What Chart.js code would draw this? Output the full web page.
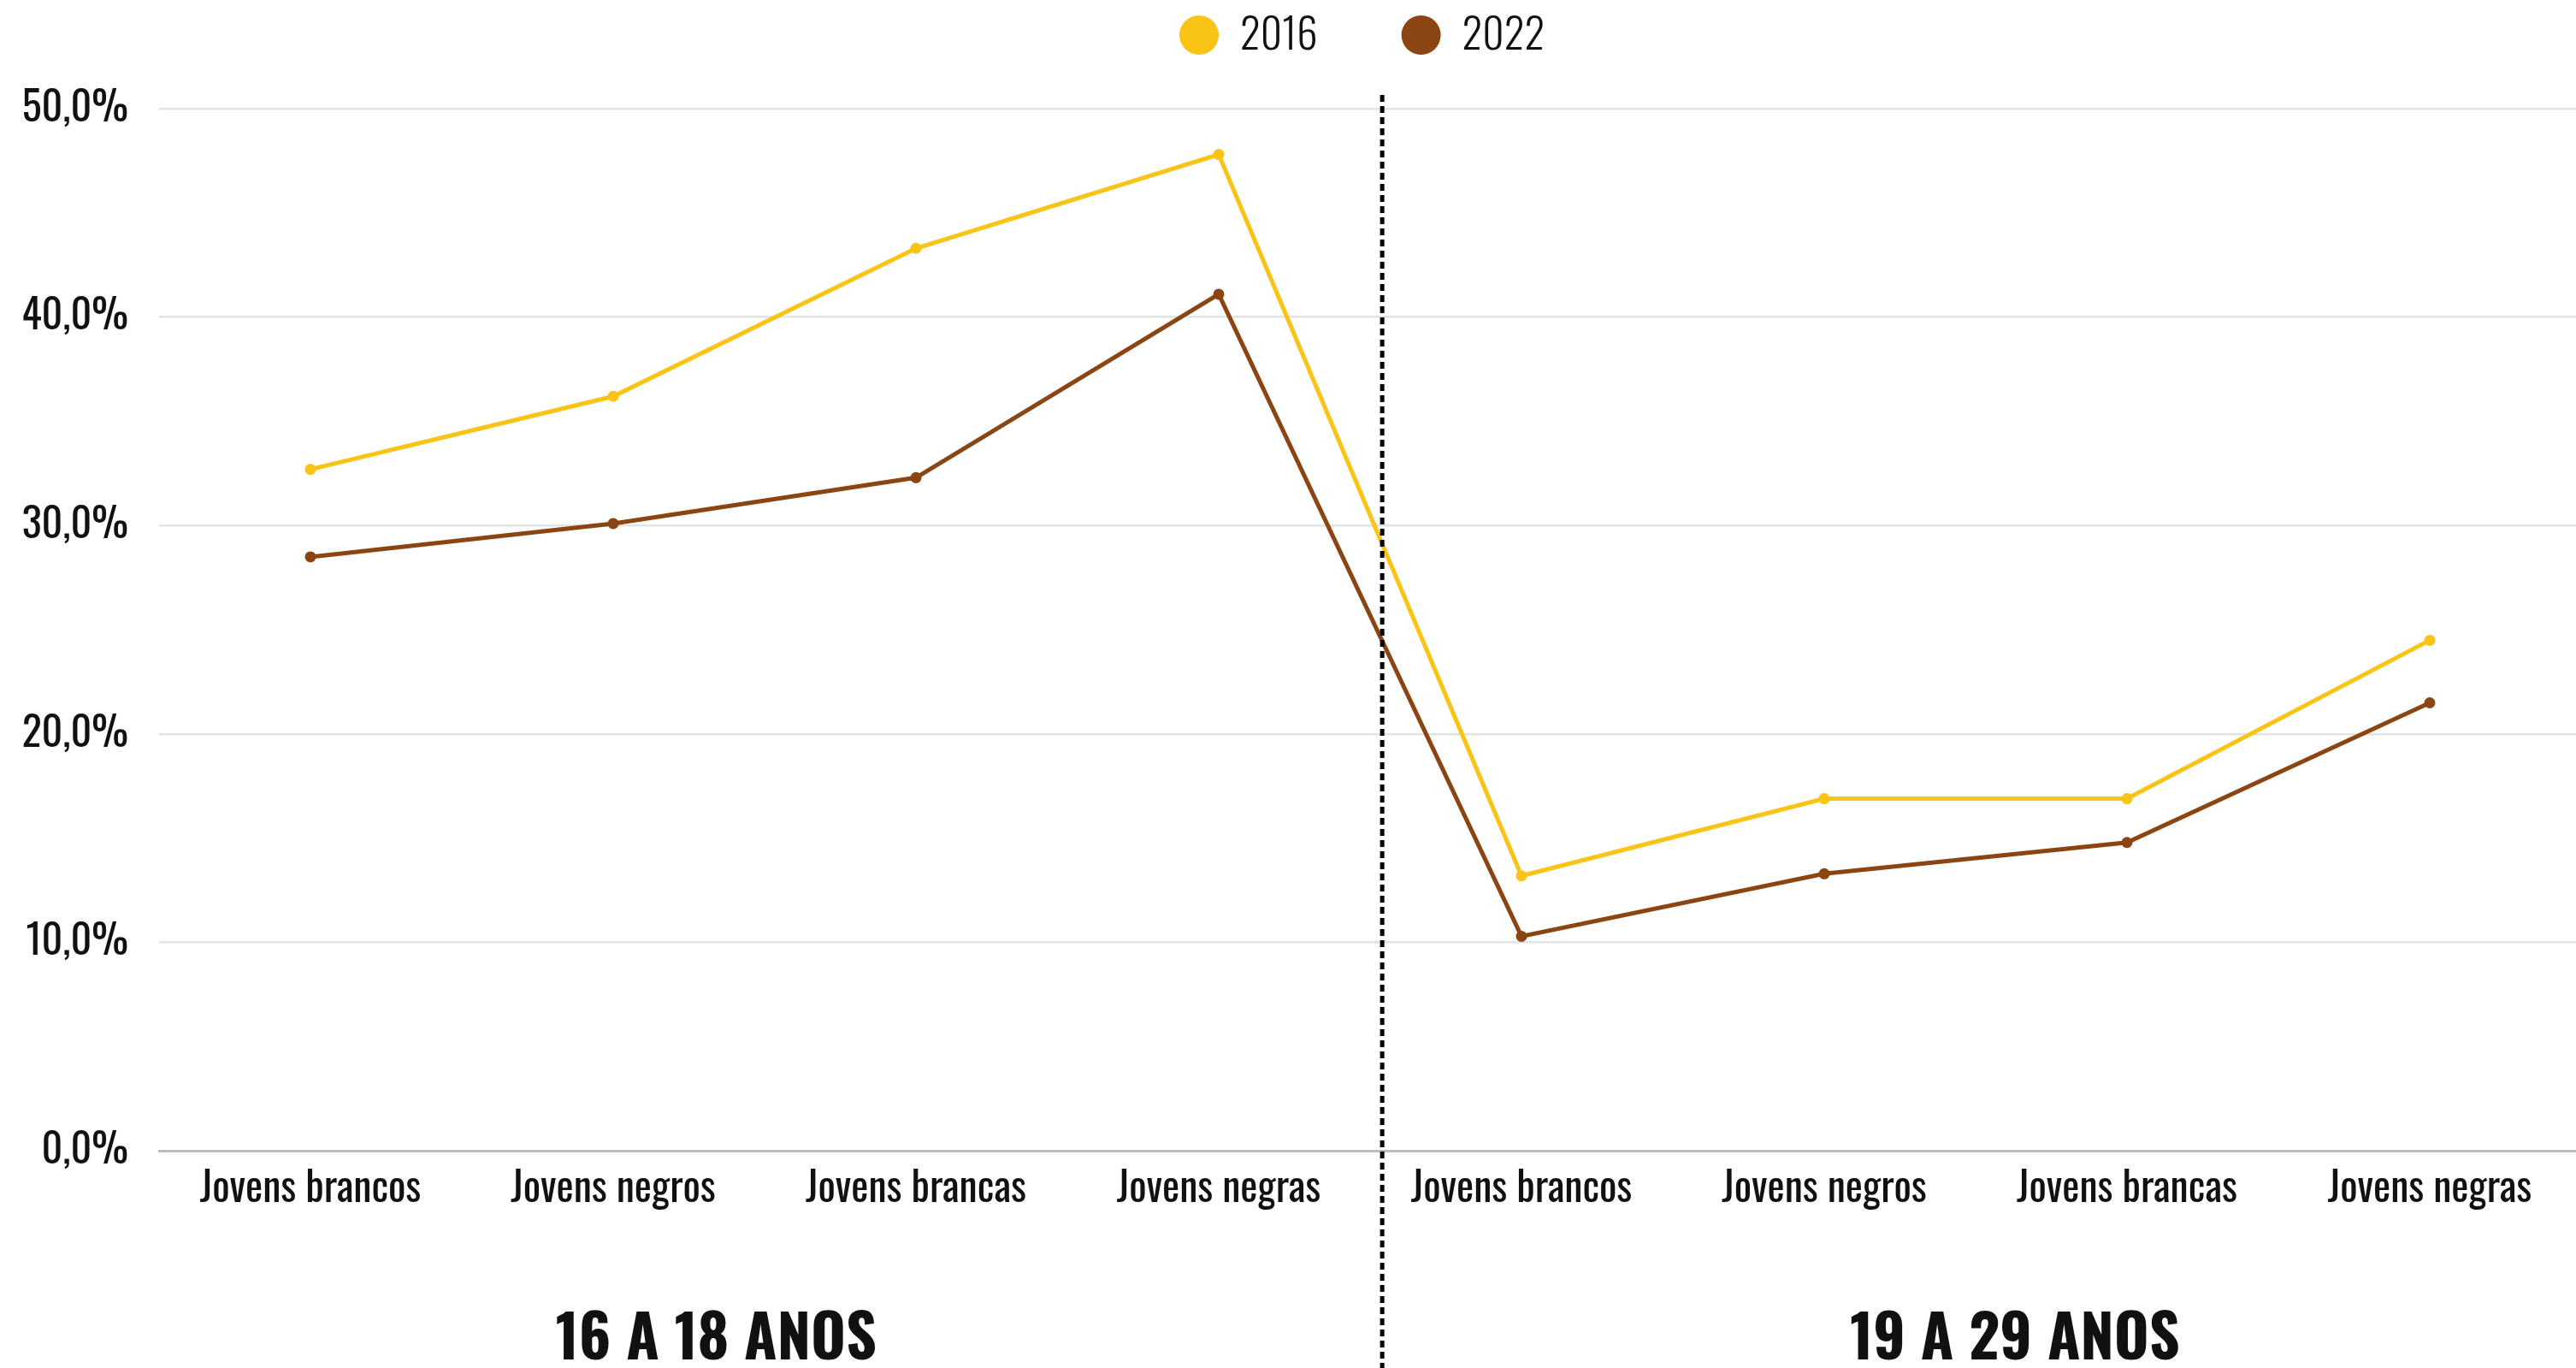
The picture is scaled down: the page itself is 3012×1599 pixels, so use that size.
<!DOCTYPE html>
<html>
<head>
<meta charset="utf-8">
<script src="https://cdn.jsdelivr.net/npm/chart.js@4/dist/chart.umd.min.js"></script>
<style>
  html, body { margin: 0; padding: 0; background: #ffffff; overflow: hidden; }
  #wrap { position: relative; width: 3018px; height: 1599px; }
</style>
</head>
<body>
<div id="wrap"><canvas id="c"></canvas></div>
<script>
const categories = ["Jovens brancos", "Jovens negros", "Jovens brancas", "Jovens negras",
                    "Jovens brancos", "Jovens negros", "Jovens brancas", "Jovens negras"];
const seriesNames = ["2016", "2022"];
const values2016 = [32.7, 36.2, 43.3, 47.8, 13.2, 16.9, 16.9, 24.5];
const values2022 = [28.5, 30.1, 32.3, 41.1, 10.3, 13.3, 14.8, 21.5];
const seriesColors = ["#F9C416", "#8B4513"];
const groupLabels = ["16 A 18 ANOS", "19 A 29 ANOS"];
const yTickValues = [0, 10, 20, 30, 40, 50];

const FONT = "'Oswald', 'PT Sans Narrow', sans-serif";

const customLegend = {
  id: 'customLegend',
  afterDraw(chart) {
    const ctx = chart.ctx;
    ctx.save();
    ctx.font = "300 49px " + FONT;
    ctx.textBaseline = 'middle';
    ctx.textAlign = 'left';
    const y = 41;
    const r = 23;
    const gapText = 25;
    const itemGap = 98;
    const widths = seriesNames.map(n => 2 * r + gapText + ctx.measureText(n).width);
    let x = 1379;
    seriesNames.forEach((n, i) => {
      ctx.fillStyle = seriesColors[i];
      ctx.beginPath();
      ctx.arc(x + r, y, r, 0, Math.PI * 2);
      ctx.fill();
      ctx.fillStyle = '#111';
      ctx.fillText(n, x + 2 * r + gapText, y + 2);
      x += widths[i] + itemGap;
    });
    ctx.restore();
  }
};

const dividerAndGroups = {
  id: 'dividerAndGroups',
  afterDraw(chart) {
    const ctx = chart.ctx;
    const xs = chart.scales.x;
    const p3 = xs.getPixelForValue(3), p4 = xs.getPixelForValue(4);
    const dx = p3 + (p4 - p3) * 0.54;
    ctx.save();
    ctx.strokeStyle = '#000';
    ctx.lineWidth = 5;
    ctx.setLineDash([8, 5]);
    ctx.beginPath();
    ctx.moveTo(dx, 111);
    ctx.lineTo(dx, chart.height);
    ctx.stroke();
    ctx.setLineDash([]);
    ctx.fillStyle = '#111';
    ctx.font = "bold 70px " + FONT;
    ctx.textAlign = 'center';
    ctx.textBaseline = 'middle';
    const g1 = xs.getPixelForValue(1.34);
    const g2 = xs.getPixelForValue(5.63);
    ctx.fillText(groupLabels[0], g1, 1568);
    ctx.fillText(groupLabels[1], g2, 1568);
    ctx.restore();
  }
};

new Chart(document.getElementById('c'), {
  type: 'line',
  data: {
    labels: categories,
    datasets: [
      {
        label: seriesNames[0],
        data: values2016,
        borderColor: seriesColors[0],
        backgroundColor: seriesColors[0],
        borderWidth: 5,
        pointRadius: 6.5,
        pointBorderWidth: 0,
        pointHoverRadius: 7,
        tension: 0
      },
      {
        label: seriesNames[1],
        data: values2022,
        borderColor: seriesColors[1],
        backgroundColor: seriesColors[1],
        borderWidth: 5,
        pointRadius: 6.5,
        pointBorderWidth: 0,
        pointHoverRadius: 7,
        tension: 0
      }
    ]
  },
  options: {
    responsive: true,
    maintainAspectRatio: false,
    animation: false,
    layout: { autoPadding: false, padding: { top: 127, right: 0, bottom: 164, left: 0 } },
    plugins: {
      legend: { display: false },
      tooltip: { enabled: false }
    },
    scales: {
      x: {
        offset: true,
        afterFit(scale) { scale.paddingLeft = 0; scale.paddingRight = 0; },
        grid: { display: false, drawTicks: false },
        border: { display: true, color: '#bdbdbd', width: 3 },
        ticks: {
          color: '#111',
          padding: 16,
          maxRotation: 0,
          autoSkip: false,
          font: { family: FONT, size: 48, weight: '400' }
        }
      },
      y: {
        min: 0,
        max: 50,
        afterFit(scale) { scale.width = 186; },
        afterBuildTicks(scale) { scale.ticks = yTickValues.map(v => ({ value: v })); },
        grid: { color: '#e3e3e3', lineWidth: 2.5, drawTicks: false },
        border: { display: false },
        ticks: {
          color: '#111',
          padding: 36,
          font: { family: FONT, size: 48, weight: '400' },
          callback: v => v.toFixed(1).replace('.', ',') + '%'
        }
      }
    }
  },
  plugins: [customLegend, dividerAndGroups]
});
</script>
</body>
</html>
